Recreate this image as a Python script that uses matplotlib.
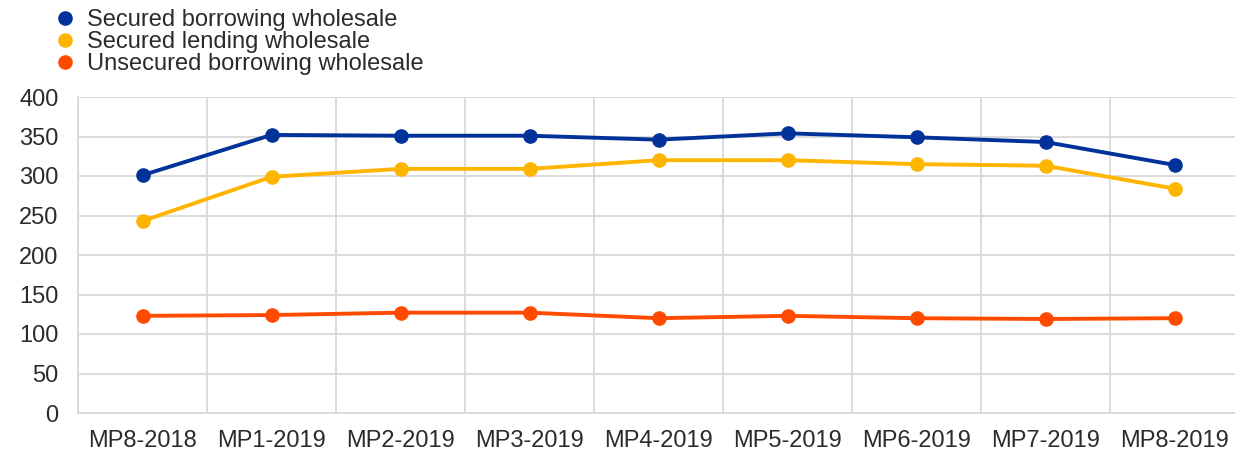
import matplotlib
matplotlib.use('Agg')
import matplotlib.pyplot as plt
from matplotlib.lines import Line2D

periods = ['MP8-2018', 'MP1-2019', 'MP2-2019', 'MP3-2019', 'MP4-2019',
           'MP5-2019', 'MP6-2019', 'MP7-2019', 'MP8-2019']
secured_borrowing = [301, 352, 351, 351, 346, 354, 349, 343, 314]
secured_lending = [243, 299, 309, 309, 320, 320, 315, 313, 284]
unsecured_borrowing = [123, 124, 127, 127, 120, 123, 120, 119, 120]

series = [
    ('Secured borrowing wholesale', secured_borrowing, '#003299'),
    ('Secured lending wholesale', secured_lending, '#FFB400'),
    ('Unsecured borrowing wholesale', unsecured_borrowing, '#FF4B00'),
]

plt.rcParams['font.family'] = ['Liberation Sans', 'DejaVu Sans']
text_col = '#2b2b2b'
grid_col = '#d9d9d9'

fig = plt.figure(figsize=(12.35, 4.53), dpi=100)
ax = fig.add_axes([78 / 1235, 40 / 453, 1161 / 1235, 316 / 453])

x = list(range(len(periods)))
for name, vals, col in series:
    ax.plot(x, vals, color=col, lw=2.8, marker='o', ms=9.5, solid_capstyle='round')

ax.set_xlim(-0.5, len(periods) - 0.5)
ax.set_ylim(0, 400)
ax.set_yticks(range(0, 401, 50))
ax.set_xticks(x)
ax.set_xticklabels(periods)
ax.set_xticks([i + 0.5 for i in range(-1, len(periods))], minor=True)
ax.grid(True, axis='y', color=grid_col, lw=1.3)
ax.grid(True, axis='x', which='minor', color=grid_col, lw=1.3)
ax.set_axisbelow(True)
ax.tick_params(which='both', length=0, labelsize=17, colors=text_col, pad=12)
ax.tick_params(axis='y', pad=14)
for s in ['top', 'right']:
    ax.spines[s].set_visible(False)
for s in ['left', 'bottom']:
    ax.spines[s].set_color(grid_col)
    ax.spines[s].set_linewidth(1.3)

handles = [Line2D([], [], ls='none', marker='o', ms=9.5, color=c) for _, _, c in series]
labels = [n for n, _, _ in series]
leg = fig.legend(handles, labels, loc='upper left', bbox_to_anchor=(34 / 1235, 1.022),
                 frameon=False, fontsize=17, handlelength=1.0, handletextpad=0.45,
                 labelspacing=0.0, borderpad=0.3)
for t in leg.get_texts():
    t.set_color(text_col)

fig.savefig('out.png', dpi=100)
